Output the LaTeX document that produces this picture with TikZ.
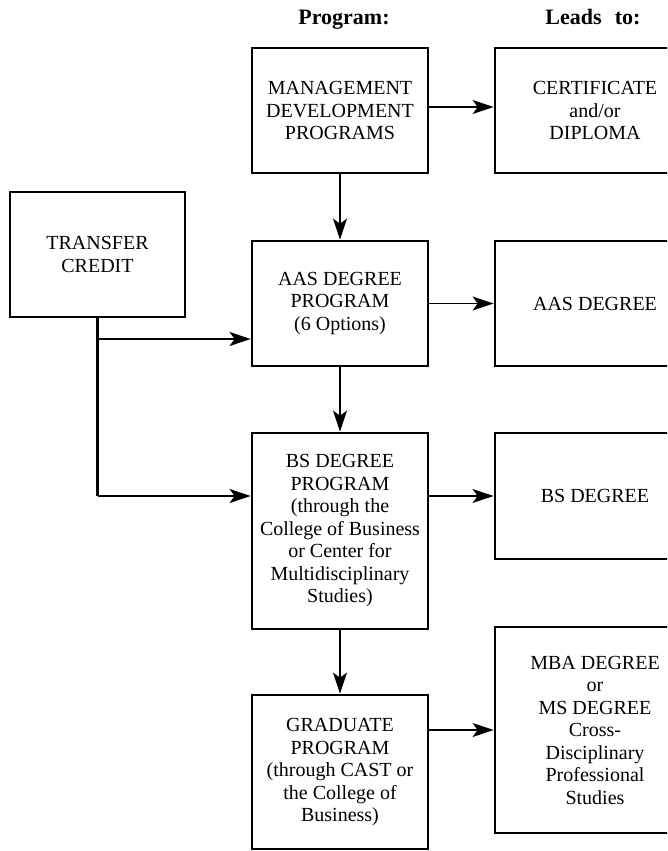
\documentclass[tikz,border=0pt]{standalone}
\usepackage{fontspec}
\setmainfont{Liberation Serif}
\usetikzlibrary{arrows.meta}
\tikzset{
  box/.style={draw, line width=2.8pt, minimum width=176pt, inner sep=2pt, align=center, font=\fontsize{20}{22.5}\selectfont},
  goal/.style={box, minimum width=200pt},
  head/.style={anchor=base, font=\fontsize{22}{24}\selectfont\bfseries},
  flow/.style={line width=1.5pt, -{Stealth[length=21pt,width=14pt,inset=5pt]}},
  trunk/.style={line width=2.2pt}
}

\begin{document}
\begin{tikzpicture}[x=1pt, y=-1pt]
		%%%%% START %%%%%
		\useasboundingbox (0,0) rectangle (667,851);
		\clip (0,0) rectangle (667,851);
		
		\node[head] (hprog) at (344,25) {Program:};
		\node[head] (hleads) at (593,25) {Leads\hspace{0.6em}to:};
		
		\node[box, minimum height=125pt] (mgmt) at (340,110.5) {MANAGEMENT\\DEVELOPMENT\\PROGRAMS};
		\node[goal, minimum height=125pt] (cert) at (595,110.5) {CERTIFICATE\\and/or\\DIPLOMA};
		
		\node[box, minimum width=175pt, minimum height=125pt] (transfer) at (97.5,254.5) {TRANSFER\\CREDIT};
		\node[box, minimum height=125pt] (aasprog) at (340,303.5) {AAS DEGREE\\PROGRAM\\(6 Options)};
		\node[goal, minimum height=125pt] (aasdeg) at (595,303.5) {AAS DEGREE};
		
		\node[box, minimum height=196pt] (bsprog) at (340,531) {BS DEGREE\\PROGRAM\\(through the\\College of Business\\or Center for\\Multidisciplinary\\Studies)};
		\node[goal, minimum height=126pt] (bsdeg) at (595,496) {BS DEGREE};
		
		\node[box, minimum height=154pt] (grad) at (340,772) {GRADUATE\\PROGRAM\\(through CAST or\\the College of\\Business)};
		\node[goal, minimum height=206pt] (mba) at (595,730) {MBA DEGREE\\or\\MS DEGREE\\Cross-\\Disciplinary\\Professional\\Studies};
		
		% program -> leads to
		\draw[flow] (mgmt.east |- 0,107) -- (cert.west |- 0,107);
		\draw[flow] (aasprog) -- (aasdeg);
		\draw[flow] (bsprog.east |- bsdeg) -- (bsdeg.west);
		\draw[flow] (grad.east |- mba) -- (mba.west);
		
		% down the column
		\draw[flow, line width=1.2pt] (mgmt) -- (aasprog);
		\draw[flow, line width=1.2pt] (aasprog) -- (bsprog);
		\draw[flow, line width=1.2pt] (bsprog) -- (grad);
		
		% transfer credit
		\coordinate (tfork) at (transfer.south |- 0,339);
		\coordinate (tbend) at (transfer.south |- bsdeg);
		\draw[trunk] (transfer.south) -- (tbend);
		\draw[flow, trunk] (tfork) -- (aasprog.west |- tfork);
		\draw[flow, trunk] (tbend) -- (bsprog.west |- tbend);
		
		%%%%% END %%%%%
	\end{tikzpicture}
\end{document}
